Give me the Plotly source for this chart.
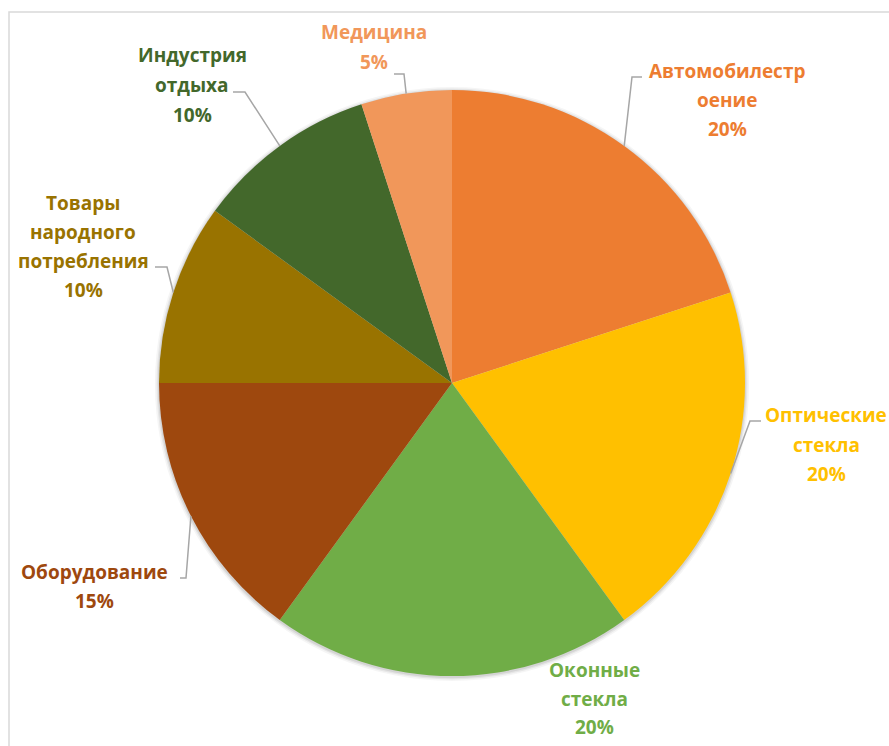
import math
import plotly.graph_objects as go

# Sector shares, clockwise from 12 o'clock
categories = [
    "Автомобилестроение",
    "Оптические стекла",
    "Оконные стекла",
    "Оборудование",
    "Товары народного потребления",
    "Индустрия отдыха",
    "Медицина",
]
shares = [20, 20, 20, 15, 10, 10, 5]
colors = ["#ED7D31", "#FFC000", "#70AD47", "#9E480E", "#997300", "#43682B", "#F1975A"]

# How each label is broken into lines
label_lines = [
    ["Автомобилестр", "оение"],
    ["Оптические", "стекла"],
    ["Оконные", "стекла"],
    ["Оборудование"],
    ["Товары", "народного", "потребления"],
    ["Индустрия", "отдыха"],
    ["Медицина"],
]

W, H = 889, 746
CX, CY, R = 452, 383, 293  # pie centre and radius in pixels

# Label placement in pixels: centre x, first line y, line spacing
label_pos = [
    (727, 71, 29),
    (826, 415, 29.5),
    (594, 670, 28.5),
    (94, 572, 28.5),
    (83, 203, 29),
    (192, 55, 30),
    (374, 32, 30),
]
# Leader elbows: (elbow x, elbow y, end x of the horizontal tick); None = no leader
leaders = [
    (632, 77, 642),
    (750, 421, 761),
    None,
    (186, 578, 180),
    (167, 267, 155),
    (245, 92, 233),
    (404, 74, 394),
]


def px(x):
    return x / W


def py(y):
    return 1 - y / H


fig = go.Figure()

# Soft shadow ring behind the pie
for grow, alpha in [(4, 0.04), (2.5, 0.06), (1.2, 0.08)]:
    fig.add_trace(
        go.Pie(
            values=[1], labels=[""],
            marker=dict(colors=[f"rgba(0,0,0,{alpha})"], line=dict(width=0)),
            textinfo="none", hoverinfo="skip", showlegend=False, sort=False,
            domain=dict(x=[px(CX - R - grow), px(CX + R + grow)],
                        y=[py(CY + 1 + R + grow), py(CY + 1 - R - grow)]),
        )
    )

fig.add_trace(
    go.Pie(
        labels=categories,
        values=shares,
        marker=dict(colors=colors, line=dict(width=0)),
        sort=False,
        direction="clockwise",
        rotation=0,
        textinfo="none",
        hoverinfo="label+percent",
        domain=dict(x=[px(CX - R), px(CX + R)], y=[py(CY + R), py(CY - R)]),
        showlegend=False,
    )
)

annotations = []
shapes = []
total = sum(shares)
cum = 0.0
for i, v in enumerate(shares):
    mid = (cum + v / 2) / total * 2 * math.pi
    cum += v
    pct = f"{round(v / total * 100)}%"
    lx, ly0, dy = label_pos[i]
    lines = label_lines[i] + [pct]
    for k, t in enumerate(lines):
        annotations.append(
            dict(
                x=px(lx), y=py(ly0 + k * dy), xref="paper", yref="paper",
                text=t, showarrow=False, xanchor="center", yanchor="middle",
                font=dict(family="Open Sans", size=19, color=colors[i], weight="bold"),
            )
        )
    if leaders[i] is not None:
        ax = CX + R * math.sin(mid)
        ay = CY - R * math.cos(mid)
        ex, ey, hx = leaders[i]
        path = f"M {px(ax)} {py(ay)} L {px(ex)} {py(ey)} L {px(hx)} {py(ey)}"
        shapes.append(
            dict(type="path", xref="paper", yref="paper", path=path,
                 line=dict(color="#A6A6A6", width=1.5))
        )

# Chart area frame
shapes.append(
    dict(type="rect", xref="paper", yref="paper",
         x0=px(9), y0=-0.05, x1=1.05, y1=py(12),
         line=dict(color="#D9D9D9", width=1.5), fillcolor="rgba(0,0,0,0)")
)

fig.update_layout(
    width=W, height=H,
    margin=dict(l=0, r=0, t=0, b=0),
    paper_bgcolor="white", plot_bgcolor="white",
    annotations=annotations, shapes=shapes,
)

fig.write_html("out.html")
